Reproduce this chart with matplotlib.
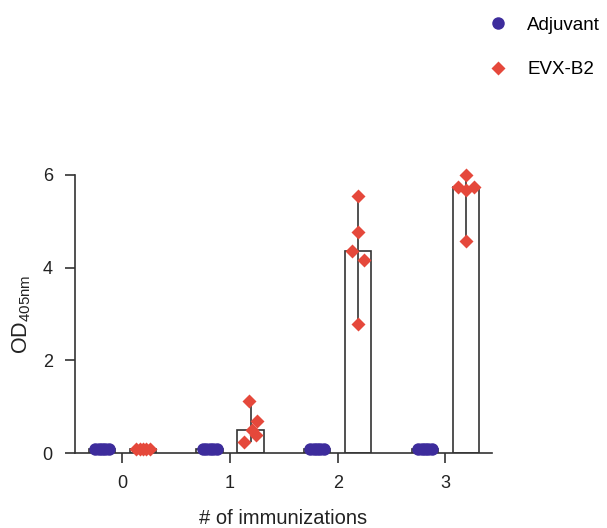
import numpy as np
import matplotlib.pyplot as plt

plt.rcParams['font.family'] = ['Liberation Sans', 'DejaVu Sans']
plt.rcParams['mathtext.fontset'] = 'custom'
plt.rcParams['mathtext.rm'] = 'Liberation Sans'

groups = [0, 1, 2, 3]
tick_labels = ['0', '1', '2', '3']

# individual animals per group (OD405nm)
adjuvant = [[0.08, 0.08, 0.08, 0.08, 0.08],
            [0.08, 0.08, 0.08, 0.08, 0.08],
            [0.08, 0.08, 0.08, 0.08, 0.08],
            [0.08, 0.08, 0.08, 0.08, 0.08]]
evx = [[0.08, 0.08, 0.08, 0.08, 0.08],
       [1.13, 0.70, 0.50, 0.39, 0.24],
       [5.55, 4.76, 4.37, 4.17, 2.78],
       [6.00, 5.74, 5.68, 5.74, 4.58]]

jit_adj = [-0.065, -0.03, 0.0, 0.03, 0.065]
jit_evx = [[-0.065, -0.03, 0.0, 0.03, 0.065],
           [-0.01, 0.06, 0.015, 0.05, -0.065],
           [0.0, 0.0, -0.06, 0.055, 0.0],
           [0.0, -0.075, 0.0, 0.075, 0.0]]

purple = '#3d2c9c'
red = '#e5483b'
dark = '#333333'
txt = '#222222'

fig = plt.figure(figsize=(6.07, 5.28), dpi=100)
ax = fig.add_axes([0.1236, 0.142, 0.6864, 0.5266])

off = 0.19
w = 0.245
for i, g in enumerate(groups):
    for vals, xo in ((adjuvant[i], -off), (evx[i], off)):
        med = np.median(vals)
        ax.bar(g + xo, med, width=w, color='white', edgecolor=dark, linewidth=1.2, zorder=1)
        ax.vlines(g + xo, min(vals), max(vals), color=dark, linewidth=1.2, zorder=2)
    ax.plot(g - off + np.array(jit_adj), adjuvant[i], 'o', color=purple, ms=9,
            mec='none', clip_on=False, zorder=3)
    ax.plot(g + off + np.array(jit_evx[i]), evx[i], 'D', color=red, ms=7,
            mec='none', clip_on=False, zorder=3)

ax.plot([], [], 'o', color=purple, ms=9, mec='none', label='Adjuvant')
ax.plot([], [], 'D', color=red, ms=7, mec='none', label='EVX-B2')

ax.set_xlim(-0.44, 3.43)
ax.set_ylim(0, 6)
ax.set_xticks(groups)
ax.set_xticklabels(tick_labels)
ax.set_yticks([0, 2, 4, 6])
ax.spines['top'].set_visible(False)
ax.spines['right'].set_visible(False)
for s in ('left', 'bottom'):
    ax.spines[s].set_color(dark)
    ax.spines[s].set_linewidth(1.2)
ax.tick_params(colors=dark, width=1.2, length=7, labelsize=13, labelcolor=txt)
ax.tick_params(axis='x', pad=9)
ax.tick_params(axis='y', pad=9)
ax.set_xlabel('# of immunizations', fontsize=14.5, labelpad=12, color=txt)
ax.set_ylabel('OD$_{\\mathregular{405nm}}$', fontsize=15.5, labelpad=7, color=txt)

fig.legend(loc='upper left', bbox_to_anchor=(0.77, 1.0), frameon=False, fontsize=13.5,
           labelspacing=1.45, handletextpad=0.8, handlelength=1.5)

fig.savefig('out.png', dpi=100)
